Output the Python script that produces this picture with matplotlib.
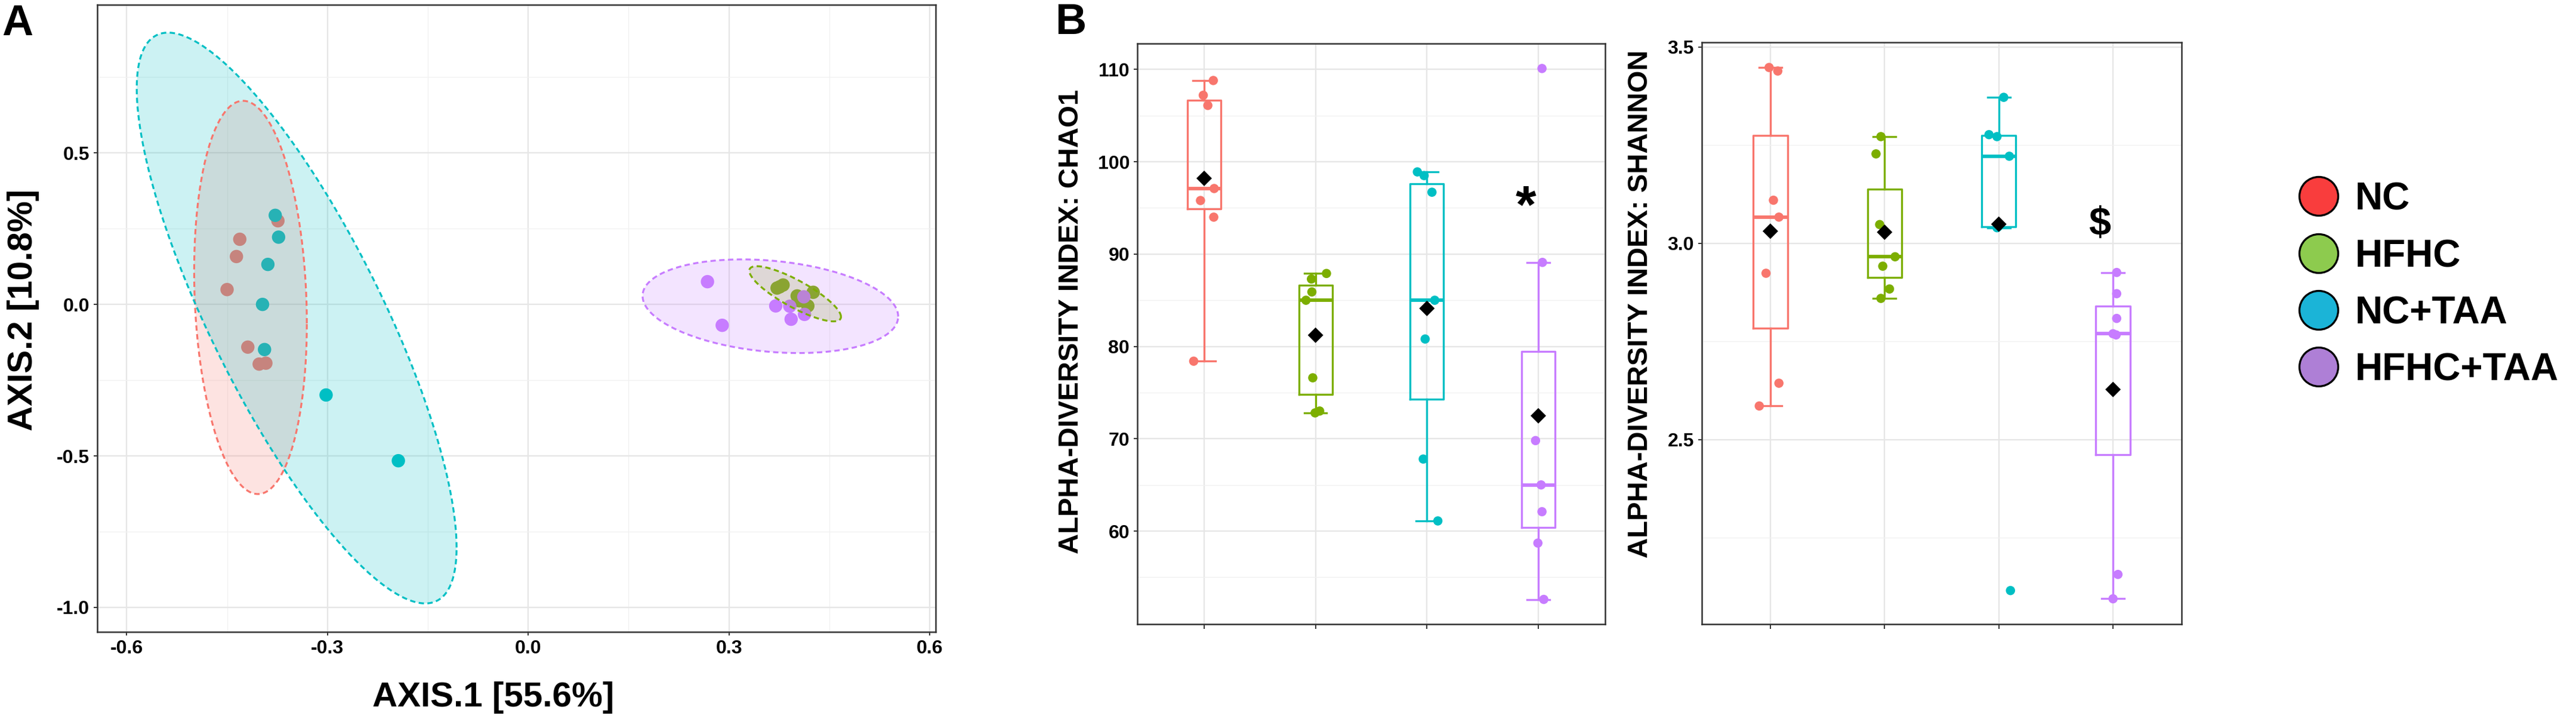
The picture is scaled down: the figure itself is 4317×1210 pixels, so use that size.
import numpy as np
import matplotlib
matplotlib.use("Agg")
import matplotlib.pyplot as plt
from matplotlib.patches import Polygon, Circle
from matplotlib.ticker import FixedLocator, NullFormatter

plt.rcParams['font.family'] = ['Liberation Sans', 'DejaVu Sans']
plt.rcParams['font.weight'] = 'bold'

# ---------------- data ----------------
groups = ['NC', 'HFHC', 'NC+TAA', 'HFHC+TAA']
group_colors = ['#F8766D', '#7CAE00', '#00BFC4', '#C77CFF']
legend_colors = ['#F93D3D', '#8DCB4E', '#1BB4D7', '#AE7FD6']

# Panel A: PCoA coordinates
nc_ax1 = [-0.374, -0.431, -0.436, -0.450, -0.419, -0.402, -0.392]
nc_ax2 = [0.276, 0.215, 0.158, 0.049, -0.141, -0.197, -0.194]
hfhc_ax1 = [0.372, 0.381, 0.376, 0.402, 0.426, 0.418, 0.405]
hfhc_ax2 = [0.054, 0.064, 0.058, 0.028, 0.040, -0.005, 0.012]
nctaa_ax1 = [-0.378, -0.373, -0.389, -0.397, -0.394, -0.302, -0.194]
nctaa_ax2 = [0.294, 0.222, 0.132, 0.000, -0.149, -0.299, -0.516]
hfhctaa_ax1 = [0.268, 0.290, 0.370, 0.391, 0.393, 0.412, 0.413]
hfhctaa_ax2 = [0.075, -0.069, -0.005, -0.006, -0.049, 0.025, -0.033]

# 95% ellipses (centre, sd along axes, correlation)
ell_cx = [-0.415, 0.399, -0.346, 0.362]
ell_cy = [0.023, 0.035, -0.045, -0.006]
ell_sx = [0.0842, 0.0685, 0.239, 0.191]
ell_sy = [0.649, 0.091, 0.942, 0.1545]
ell_r = [-0.132, -0.834, -0.804, -0.220]

axis1_ticks = [-0.6, -0.3, 0.0, 0.3, 0.6]
axis2_ticks = [-1.0, -0.5, 0.0, 0.5]

# Panel B: alpha diversity
chao1_nc = [108.8, 107.2, 106.1, 97.1, 95.8, 94.0, 78.4]
chao1_hfhc = [87.9, 87.3, 85.9, 85.0, 76.6, 72.8, 73.0]
chao1_nctaa = [98.9, 98.5, 96.7, 85.0, 80.8, 67.8, 61.1]
chao1_hfhctaa = [110.1, 89.1, 69.8, 65.0, 62.1, 58.7, 52.6]
chao1_jit_nc = [0.082, -0.008, 0.033, 0.090, -0.033, 0.086, -0.094]
chao1_jit_hfhc = [0.098, -0.037, -0.033, -0.086, -0.025, -0.004, 0.037]
chao1_jit_nctaa = [-0.086, -0.025, 0.045, 0.070, -0.016, -0.033, 0.098]
chao1_jit_hfhctaa = [0.033, 0.037, -0.025, 0.025, 0.033, -0.004, 0.049]
chao1_ticks = [60, 70, 80, 90, 100, 110]

shannon_nc = [3.448, 3.439, 3.110, 3.067, 2.924, 2.644, 2.586]
shannon_hfhc = [3.272, 3.228, 3.048, 2.966, 2.942, 2.884, 2.860]
shannon_nctaa = [3.372, 3.277, 3.272, 3.222, 3.044, 3.040, 2.116]
shannon_hfhctaa = [2.926, 2.872, 2.809, 2.770, 2.767, 2.157, 2.095]
shannon_jit_nc = [-0.011, 0.065, 0.027, 0.075, -0.038, 0.075, -0.097]
shannon_jit_hfhc = [-0.032, -0.075, -0.043, 0.092, -0.016, 0.043, -0.032]
shannon_jit_nctaa = [0.043, -0.086, -0.016, 0.092, 0.0, -0.016, 0.102]
shannon_jit_hfhctaa = [0.032, 0.032, 0.032, 0.0, 0.027, 0.043, 0.0]
shannon_ticks = [2.5, 3.0, 3.5]

signif_labels = ['*', '$']

# ---------------- figure ----------------
W, H = 4317, 1210
fig = plt.figure(figsize=(W / 100, H / 100), dpi=100)

def fx(px):
    return px / W

def fy(py):
    return 1 - py / H

border_col = '#333333'
tick_kw = dict(direction='out', length=4.3, width=1.4, color=border_col,
               labelsize=23, labelcolor='black', pad=5)

def style_spines(ax):
    for s in ax.spines.values():
        s.set_color(border_col)
        s.set_linewidth(1.8)

# ---- Panel A ----
axA = fig.add_axes([fx(163), fy(1059), fx(1568) - fx(163), fy(8) - fy(1059)])
axA.set_xlim(-0.644, 0.609)
axA.set_ylim(-1.081, 0.989)
axA.xaxis.set_major_locator(FixedLocator(axis1_ticks))
axA.yaxis.set_major_locator(FixedLocator(axis2_ticks))
axA.xaxis.set_minor_locator(FixedLocator([-0.45, -0.15, 0.15, 0.45]))
axA.yaxis.set_minor_locator(FixedLocator([-0.75, -0.25, 0.25, 0.75]))
axA.set_xticklabels([f'{v:.1f}' for v in axis1_ticks])
axA.set_yticklabels([f'{v:.1f}' for v in axis2_ticks])
axA.tick_params(which='major', **tick_kw)
axA.tick_params(which='minor', length=0)
axA.grid(which='major', color='#E6E6E6', lw=1.7)
axA.grid(which='minor', color='#F1F1F1', lw=1.0)
axA.set_axisbelow(True)
style_spines(axA)

pc1 = [nc_ax1, hfhc_ax1, nctaa_ax1, hfhctaa_ax1]
pc2 = [nc_ax2, hfhc_ax2, nctaa_ax2, hfhctaa_ax2]
for xs, ys, col in zip(pc1, pc2, group_colors):
    axA.scatter(xs, ys, s=260, color=col, edgecolors='none', zorder=2)

t = np.linspace(0, 2 * np.pi, 361)
for cx, cy, sx, sy, r, col in zip(ell_cx, ell_cy, ell_sx, ell_sy, ell_r, group_colors):
    ex = cx + sx * np.cos(t)
    ey = cy + sy * (r * np.cos(t) + np.sqrt(1 - r * r) * np.sin(t))
    pts = np.column_stack([ex, ey])
    axA.add_patch(Polygon(pts, closed=True, facecolor=col, alpha=0.2,
                          edgecolor='none', zorder=3))
    axA.plot(ex, ey, color=col, lw=2.3, linestyle=(0, (2.8, 1.8)), zorder=4)

axA.set_xlabel('AXIS.1 [55.6%]', fontsize=42, fontweight='bold', va='center')
axA.xaxis.set_label_coords(0.4726, -0.1047)
axA.set_ylabel('AXIS.2 [10.8%]', fontsize=42, fontweight='bold', va='center', ha='center')
axA.yaxis.set_label_coords(-0.0883, 0.513)

fig.text(fx(3), fy(6), 'A', fontsize=52, fontweight='bold', ha='left', va='top')
fig.text(fx(1768), fy(4), 'B', fontsize=52, fontweight='bold', ha='left', va='top')

# ---- Panel B ----
def box_panel(ax, values, jitters, ylim, ticks, minor, ticklabels):
    ax.set_xlim(0.4, 4.6)
    ax.set_ylim(*ylim)
    ax.xaxis.set_major_locator(FixedLocator([1, 2, 3, 4]))
    ax.xaxis.set_major_formatter(NullFormatter())
    ax.yaxis.set_major_locator(FixedLocator(ticks))
    ax.yaxis.set_minor_locator(FixedLocator(minor))
    ax.set_yticklabels(ticklabels)
    ax.tick_params(which='major', **tick_kw)
    ax.tick_params(axis='x', length=6)
    ax.tick_params(which='minor', length=0)
    ax.grid(which='major', color='#E6E6E6', lw=1.7)
    ax.grid(which='minor', axis='y', color='#F1F1F1', lw=1.0)
    ax.set_axisbelow(True)
    style_spines(ax)
    for i, (vals, jit, col) in enumerate(zip(values, jitters, group_colors)):
        pos = i + 1
        ax.boxplot([vals], positions=[pos], widths=0.3, whis=1.5,
                   showfliers=False, capwidths=0.2, manage_ticks=False,
                   boxprops=dict(color=col, linewidth=2.4),
                   whiskerprops=dict(color=col, linewidth=2.4),
                   capprops=dict(color=col, linewidth=2.4),
                   medianprops=dict(color=col, linewidth=4.2))
        ax.scatter(pos + np.asarray(jit), vals, s=125, color=col,
                   edgecolors='none', zorder=3)
        ax.scatter([pos], [np.mean(vals)], marker='D', s=175, color='black',
                   edgecolors='none', zorder=4)

axC = fig.add_axes([fx(1906), fy(1046), fx(2690) - fx(1906), fy(73) - fy(1046)])
box_panel(axC, [chao1_nc, chao1_hfhc, chao1_nctaa, chao1_hfhctaa],
          [chao1_jit_nc, chao1_jit_hfhc, chao1_jit_nctaa, chao1_jit_hfhctaa],
          (49.92, 112.8), chao1_ticks, [55, 65, 75, 85, 95, 105],
          [str(v) for v in chao1_ticks])
axC.set_ylabel('ALPHA-DIVERSITY INDEX: CHAO1', fontsize=34, fontweight='bold',
               va='center', ha='center')
axC.yaxis.set_label_coords(-0.1416, 0.521)
axC.text(3.887, 94.9, signif_labels[0], fontsize=64, fontweight='bold',
         ha='center', va='center')

axS = fig.add_axes([fx(2852), fy(1046), fx(3656) - fx(2852), fy(71) - fy(1046)])
box_panel(axS, [shannon_nc, shannon_hfhc, shannon_nctaa, shannon_hfhctaa],
          [shannon_jit_nc, shannon_jit_hfhc, shannon_jit_nctaa, shannon_jit_hfhctaa],
          (2.0304, 3.512), shannon_ticks, [2.25, 2.75, 3.25],
          [f'{v:.1f}' for v in shannon_ticks])
axS.set_ylabel('ALPHA-DIVERSITY INDEX: SHANNON', fontsize=34, fontweight='bold',
               va='center', ha='center')
axS.yaxis.set_label_coords(-0.128, 0.550)
axS.text(3.885, 3.047, signif_labels[1], fontsize=48, fontweight='bold',
         ha='center', va='center')

# ---- Legend ----
axL = fig.add_axes([fx(3820), fy(700), fx(4317) - fx(3820), fy(240) - fy(700)])
axL.set_xlim(3820, 4317)
axL.set_ylim(700, 240)
axL.set_aspect('equal')
axL.axis('off')
row_y = [329, 425, 520, 615]
for yy, lab, col in zip(row_y, groups, legend_colors):
    axL.add_patch(Circle((3886, yy), 32.5, facecolor=col, edgecolor='black', lw=2.4))
    axL.text(3947, yy + 23, lab, fontsize=46, fontweight='bold', ha='left',
             va='baseline')

fig.savefig('out.png', dpi=100)
